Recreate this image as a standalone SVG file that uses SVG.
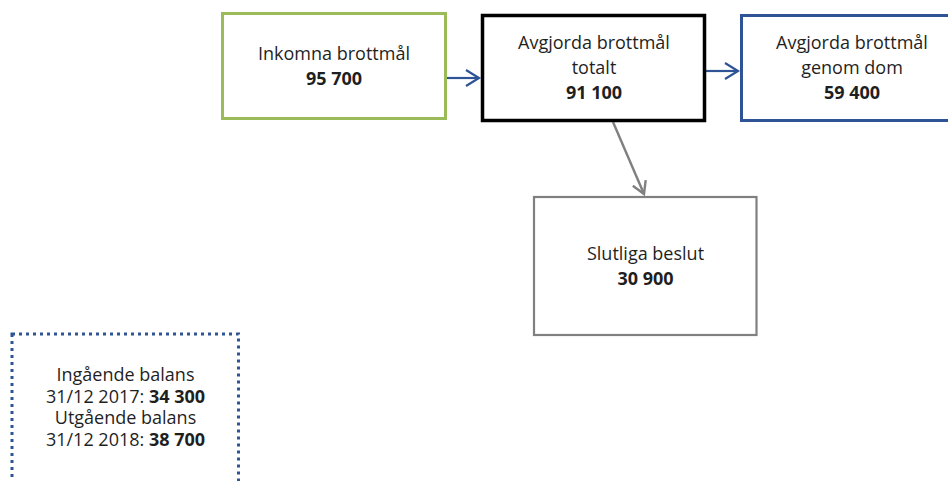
<svg xmlns="http://www.w3.org/2000/svg" width="948" height="481" viewBox="0 0 948 481">
<style>
text{font-family:"Open Sans","Noto Sans","Liberation Sans",sans-serif;font-size:18px;fill:#1f1f1f;text-anchor:middle}
.b{font-weight:700}
.box{fill:#fff}
</style>
<defs>
<marker id="ab" markerUnits="userSpaceOnUse" markerWidth="30" markerHeight="30" viewBox="-20 -15 30 30" refX="0" refY="0" orient="auto">
<path d="M-13,-8 L0,0 L-13,8" fill="none" stroke="#2F5496" stroke-width="2.2"/>
</marker>
<marker id="ag" markerUnits="userSpaceOnUse" markerWidth="30" markerHeight="30" viewBox="-20 -15 30 30" refX="0" refY="0" orient="auto">
<path d="M-12,-7 L0,0 L-12,7" fill="none" stroke="#808080" stroke-width="2.4"/>
</marker>
</defs>
<rect width="948" height="481" fill="#fff"/>
<g id="connectors">
<line x1="447" y1="78" x2="479" y2="78" stroke="#2F5496" stroke-width="2.2" marker-end="url(#ab)"/>
<line x1="706" y1="71" x2="738" y2="71" stroke="#2F5496" stroke-width="2.2" marker-end="url(#ab)"/>
<line x1="613" y1="122" x2="644" y2="194" stroke="#808080" stroke-width="2.4" marker-end="url(#ag)"/>
</g>
<g id="inkomna">
<rect class="box" x="222.5" y="13.5" width="223" height="105" stroke="#9BBB59" stroke-width="3"/>
<text x="334" y="60">Inkomna brottmål</text>
<text class="b" x="334" y="85">95 700</text>
</g>
<g id="avgjorda-totalt">
<rect class="box" x="482.5" y="15.5" width="222" height="105" stroke="#000" stroke-width="3.5"/>
<text x="594" y="49">Avgjorda brottmål</text>
<text x="594" y="74">totalt</text>
<text class="b" x="594" y="99">91 100</text>
</g>
<g id="avgjorda-dom">
<rect class="box" x="741.5" y="15.5" width="222" height="105" stroke="#2F5496" stroke-width="3"/>
<text x="852" y="49">Avgjorda brottmål</text>
<text x="852" y="74">genom dom</text>
<text class="b" x="852" y="99">59 400</text>
</g>
<g id="slutliga">
<rect class="box" x="534" y="197" width="222.5" height="138" stroke="#808080" stroke-width="2.2"/>
<text x="645.5" y="260">Slutliga beslut</text>
<text class="b" x="645.5" y="285">30 900</text>
</g>
<g id="balans">
<rect x="12" y="334" width="226.5" height="160" fill="none" stroke="#2F5496" stroke-width="3" stroke-dasharray="3 4"/>
<text x="125.5" y="381">Ingående balans</text>
<text x="125.5" y="402.5">31/12 2017: <tspan class="b">34 300</tspan></text>
<text x="125.5" y="424">Utgående balans</text>
<text x="125.5" y="445.5">31/12 2018: <tspan class="b">38 700</tspan></text>
</g>
</svg>
